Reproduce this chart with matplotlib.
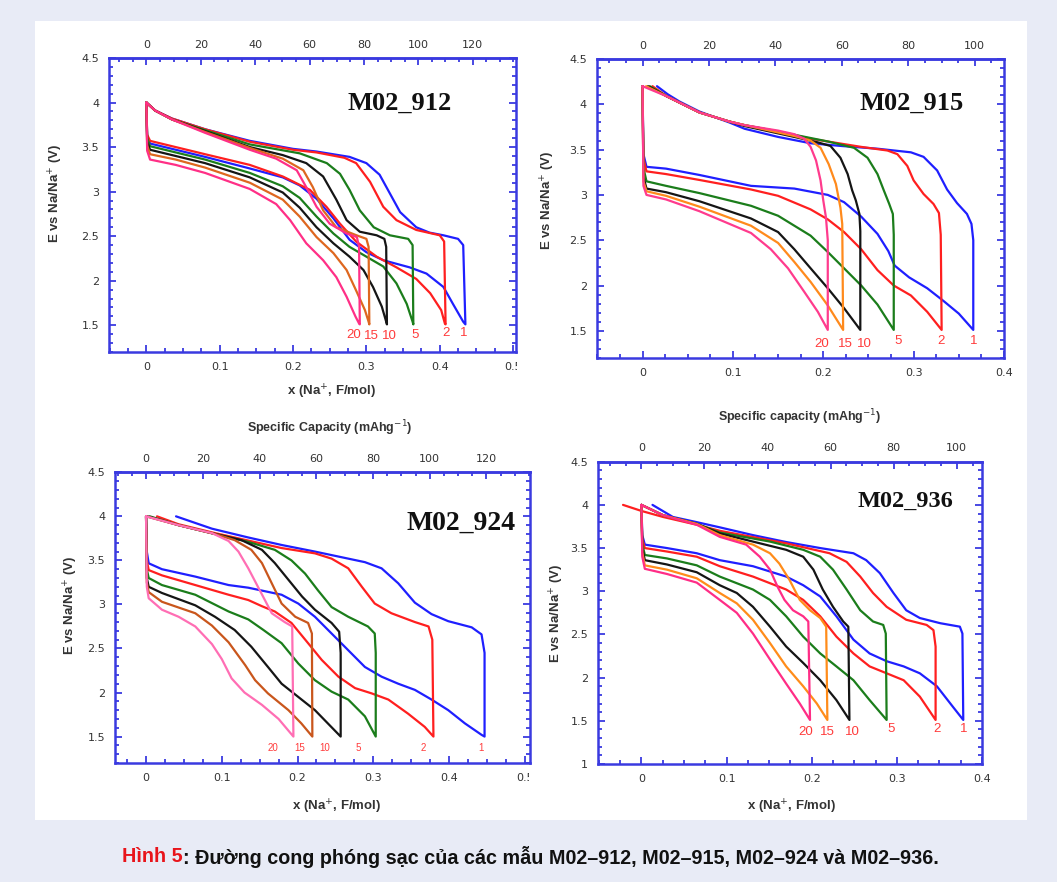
import matplotlib
matplotlib.use("Agg")
import matplotlib.pyplot as plt
from matplotlib.ticker import AutoMinorLocator
from matplotlib.patches import Rectangle
from matplotlib.transforms import Bbox, TransformedBbox

rates = ["1", "2", "5", "10", "15", "20"]

# ---------------- M02_912 ----------------
m912_x_1 = [0, 0.012, 0.035, 0.08, 0.141, 0.2, 0.232, 0.277, 0.300, 0.318, 0.332, 0.346, 0.368, 0.386, 0.405, 0.425, 0.432, 0.435,
            0.432, 0.418, 0.405, 0.382, 0.359, 0.323, 0.300, 0.277, 0.255, 0.232, 0.209, 0.186, 0.141, 0.08, 0.04, 0.005, 0.001, 0]
m912_E_1 = [4.0, 3.91, 3.82, 3.70, 3.57, 3.48, 3.45, 3.39, 3.32, 3.19, 2.98, 2.77, 2.60, 2.54, 2.51, 2.47, 2.40, 1.51,
            1.54, 1.74, 1.93, 2.08, 2.15, 2.23, 2.32, 2.46, 2.70, 2.92, 3.07, 3.16, 3.26, 3.39, 3.47, 3.54, 3.62, 4.0]
m912_x_2 = [0, 0.012, 0.035, 0.08, 0.141, 0.2, 0.232, 0.270, 0.286, 0.305, 0.323, 0.341, 0.368, 0.400, 0.406, 0.408,
            0.407, 0.402, 0.387, 0.368, 0.341, 0.314, 0.286, 0.264, 0.2455, 0.223, 0.186, 0.141, 0.08, 0.04, 0.005, 0.001, 0]
m912_E_2 = [4.0, 3.91, 3.82, 3.70, 3.56, 3.47, 3.44, 3.38, 3.32, 3.11, 2.83, 2.68, 2.57, 2.51, 2.44, 1.51,
            1.52, 1.67, 1.86, 2.02, 2.15, 2.27, 2.44, 2.64, 2.83, 3.02, 3.17, 3.30, 3.42, 3.50, 3.57, 3.64, 4.0]
m912_x_5 = [0, 0.012, 0.035, 0.08, 0.141, 0.209, 0.246, 0.264, 0.277, 0.291, 0.310, 0.332, 0.357, 0.363, 0.364,
            0.363, 0.355, 0.341, 0.323, 0.300, 0.277, 0.255, 0.232, 0.209, 0.186, 0.141, 0.08, 0.04, 0.005, 0.001, 0]
m912_E_5 = [4.0, 3.91, 3.81, 3.69, 3.53, 3.43, 3.32, 3.20, 3.02, 2.79, 2.60, 2.51, 2.47, 2.40, 1.51,
            1.54, 1.74, 1.97, 2.16, 2.27, 2.38, 2.53, 2.72, 2.93, 3.06, 3.21, 3.36, 3.44, 3.51, 3.60, 4.0]
m912_x_10 = [0, 0.012, 0.035, 0.08, 0.141, 0.186, 0.218, 0.241, 0.259, 0.273, 0.291, 0.314, 0.3245, 0.327, 0.328,
             0.327, 0.321, 0.309, 0.296, 0.277, 0.255, 0.232, 0.209, 0.186, 0.141, 0.08, 0.04, 0.005, 0.001, 0]
m912_E_10 = [4.0, 3.91, 3.81, 3.68, 3.50, 3.41, 3.32, 3.17, 2.91, 2.68, 2.55, 2.51, 2.47, 2.38, 1.51,
             1.54, 1.71, 1.93, 2.12, 2.27, 2.42, 2.60, 2.82, 2.99, 3.16, 3.32, 3.40, 3.47, 3.56, 4.0]
m912_x_15 = [0, 0.012, 0.035, 0.08, 0.141, 0.186, 0.214, 0.227, 0.241, 0.259, 0.2865, 0.300, 0.303, 0.304,
             0.303, 0.298, 0.286, 0.273, 0.255, 0.232, 0.209, 0.186, 0.141, 0.08, 0.04, 0.005, 0.001, 0]
m912_E_15 = [4.0, 3.91, 3.81, 3.67, 3.49, 3.37, 3.24, 3.05, 2.79, 2.60, 2.51, 2.47, 2.38, 1.51,
             1.54, 1.67, 1.89, 2.12, 2.31, 2.49, 2.72, 2.91, 3.10, 3.27, 3.36, 3.42, 3.52, 4.0]
m912_x_20 = [0, 0.012, 0.035, 0.08, 0.141, 0.177, 0.205, 0.218, 0.232, 0.250, 0.273, 0.287, 0.290, 0.291,
             0.290, 0.285, 0.273, 0.259, 0.241, 0.218, 0.196, 0.177, 0.141, 0.08, 0.04, 0.005, 0.001, 0]
m912_E_20 = [4.0, 3.91, 3.81, 3.66, 3.47, 3.37, 3.24, 3.05, 2.83, 2.64, 2.53, 2.49, 2.38, 1.51,
             1.52, 1.60, 1.82, 2.04, 2.23, 2.42, 2.68, 2.86, 3.03, 3.21, 3.30, 3.36, 3.46, 4.0]
m912_lab_x = [0.433, 0.409, 0.366, 0.332, 0.307, 0.282]
m912_lab_E = [1.41, 1.41, 1.39, 1.38, 1.38, 1.39]

# ---------------- M02_915 ----------------
m915_x_1 = [0.016, 0.028, 0.041, 0.063, 0.096, 0.113, 0.15, 0.186, 0.22, 0.26, 0.297, 0.311, 0.326, 0.337, 0.348, 0.359, 0.364, 0.366, 0.366,
            0.35, 0.333, 0.315, 0.295, 0.279, 0.272, 0.26, 0.242, 0.223, 0.205, 0.168, 0.12, 0.063, 0.026, 0.0044, 0.001, 0]
m915_E_1 = [4.2, 4.11, 4.03, 3.92, 3.80, 3.73, 3.64, 3.57, 3.54, 3.51, 3.47, 3.42, 3.27, 3.06, 2.91, 2.79, 2.68, 2.50, 1.51,
            1.69, 1.83, 1.97, 2.09, 2.22, 2.38, 2.57, 2.76, 2.92, 3.0, 3.07, 3.10, 3.22, 3.29, 3.31, 3.45, 4.2]
m915_x_2 = [0.011, 0.0265, 0.063, 0.096, 0.113, 0.15, 0.186, 0.242, 0.271, 0.282, 0.293, 0.300, 0.311, 0.322, 0.328, 0.330, 0.331,
            0.315, 0.297, 0.278, 0.26, 0.242, 0.223, 0.205, 0.186, 0.15, 0.12, 0.063, 0.026, 0.0044, 0.001, 0]
m915_E_2 = [4.2, 4.09, 3.91, 3.81, 3.77, 3.70, 3.62, 3.53, 3.49, 3.45, 3.32, 3.16, 3.01, 2.90, 2.80, 2.56, 1.51,
            1.71, 1.89, 2.00, 2.17, 2.40, 2.59, 2.73, 2.84, 2.99, 3.06, 3.165, 3.23, 3.26, 3.40, 4.2]
m915_x_5 = [0.008, 0.0265, 0.063, 0.096, 0.113, 0.15, 0.205, 0.234, 0.249, 0.26, 0.267, 0.273, 0.277, 0.278, 0.278,
            0.26, 0.242, 0.223, 0.205, 0.186, 0.15, 0.12, 0.063, 0.026, 0.0044, 0.001, 0]
m915_E_5 = [4.2, 4.09, 3.91, 3.81, 3.77, 3.70, 3.59, 3.52, 3.41, 3.23, 3.05, 2.90, 2.79, 2.56, 1.51,
            1.79, 2.0, 2.19, 2.37, 2.55, 2.77, 2.88, 3.02, 3.10, 3.15, 3.30, 4.2]
m915_x_10 = [0.006, 0.0265, 0.063, 0.096, 0.113, 0.168, 0.194, 0.208, 0.219, 0.227, 0.232, 0.236, 0.240, 0.241, 0.241,
             0.223, 0.205, 0.186, 0.168, 0.15, 0.12, 0.063, 0.026, 0.0044, 0.001, 0]
m915_E_10 = [4.2, 4.09, 3.91, 3.81, 3.76, 3.64, 3.58, 3.54, 3.41, 3.23, 3.05, 2.94, 2.79, 2.60, 1.51,
             1.75, 1.97, 2.19, 2.40, 2.59, 2.74, 2.93, 3.03, 3.07, 3.20, 4.2]
m915_x_15 = [0.004, 0.0265, 0.063, 0.096, 0.113, 0.168, 0.186, 0.197, 0.206, 0.214, 0.219, 0.221, 0.222,
             0.205, 0.186, 0.168, 0.15, 0.12, 0.063, 0.026, 0.0044, 0.001, 0]
m915_E_15 = [4.2, 4.09, 3.91, 3.81, 3.77, 3.65, 3.60, 3.52, 3.34, 3.12, 2.86, 2.68, 1.51,
             1.78, 2.04, 2.26, 2.47, 2.66, 2.87, 2.99, 3.04, 3.15, 4.2]
m915_x_20 = [0, 0.0265, 0.063, 0.096, 0.113, 0.15, 0.168, 0.179, 0.186, 0.192, 0.197, 0.200, 0.203, 0.205, 0.205,
             0.194, 0.179, 0.161, 0.142, 0.12, 0.063, 0.026, 0.0044, 0.001, 0]
m915_E_20 = [4.2, 4.09, 3.91, 3.81, 3.77, 3.71, 3.67, 3.62, 3.53, 3.38, 3.16, 2.94, 2.75, 2.50, 1.51,
             1.71, 1.93, 2.19, 2.40, 2.58, 2.82, 2.95, 3.0, 3.10, 4.2]
m915_lab_x = [0.366, 0.330, 0.283, 0.245, 0.224, 0.198]
m915_lab_E = [1.39, 1.39, 1.39, 1.36, 1.36, 1.36]

# ---------------- M02_924 ----------------
m924_x_1 = [0.0396, 0.087, 0.135, 0.179, 0.223, 0.267, 0.289, 0.311, 0.333, 0.355, 0.377, 0.399, 0.43, 0.443, 0.447, 0.447,
            0.443, 0.421, 0.399, 0.377, 0.355, 0.333, 0.311, 0.289, 0.267, 0.245, 0.223, 0.201, 0.179, 0.135, 0.109, 0.065, 0.021, 0.0035, 0.001, 0]
m924_E_1 = [4.0, 3.86, 3.76, 3.675, 3.60, 3.52, 3.48, 3.41, 3.24, 3.02, 2.89, 2.81, 2.74, 2.66, 2.45, 1.5,
            1.52, 1.65, 1.80, 1.92, 2.03, 2.10, 2.18, 2.29, 2.48, 2.67, 2.86, 3.01, 3.11, 3.19, 3.22, 3.316, 3.40, 3.467, 3.6, 4.0]
m924_x_2 = [0.0145, 0.043, 0.091, 0.179, 0.223, 0.245, 0.267, 0.285, 0.302, 0.324, 0.355, 0.373, 0.378, 0.3795,
            0.368, 0.346, 0.32, 0.298, 0.276, 0.254, 0.232, 0.214, 0.192, 0.17, 0.153, 0.135, 0.109, 0.065, 0.021, 0.0035, 0.001, 0]
m924_E_2 = [4.0, 3.91, 3.81, 3.64, 3.58, 3.52, 3.41, 3.20, 3.01, 2.90, 2.80, 2.75, 2.60, 1.5,
            1.61, 1.76, 1.92, 1.99, 2.05, 2.18, 2.37, 2.56, 2.79, 2.92, 2.98, 3.05, 3.11, 3.22, 3.33, 3.39, 3.5, 4.0]
m924_x_5 = [0.005, 0.043, 0.091, 0.135, 0.17, 0.192, 0.21, 0.227, 0.245, 0.267, 0.293, 0.302, 0.3033, 0.3033,
            0.289, 0.267, 0.245, 0.223, 0.201, 0.179, 0.155, 0.135, 0.109, 0.065, 0.021, 0.0035, 0.001, 0]
m924_E_5 = [4.0, 3.90, 3.80, 3.71, 3.62, 3.50, 3.35, 3.16, 2.97, 2.86, 2.75, 2.67, 2.45, 1.5,
            1.73, 1.92, 2.01, 2.14, 2.33, 2.56, 2.71, 2.83, 2.92, 3.11, 3.22, 3.30, 3.4, 4.0]
m924_x_10 = [0.002, 0.043, 0.091, 0.126, 0.153, 0.17, 0.188, 0.206, 0.223, 0.245, 0.255, 0.257, 0.257,
             0.24, 0.223, 0.201, 0.179, 0.161, 0.139, 0.117, 0.091, 0.065, 0.021, 0.0035, 0.001, 0]
m924_E_10 = [4.0, 3.90, 3.80, 3.73, 3.62, 3.47, 3.28, 3.09, 2.94, 2.79, 2.69, 2.45, 1.5,
             1.65, 1.80, 1.95, 2.10, 2.29, 2.52, 2.71, 2.86, 2.99, 3.13, 3.20, 3.3, 4.0]
m924_x_15 = [0, 0.043, 0.091, 0.117, 0.139, 0.153, 0.166, 0.179, 0.197, 0.214, 0.219, 0.2196,
             0.205, 0.188, 0.161, 0.144, 0.131, 0.109, 0.087, 0.065, 0.021, 0.0035, 0.001, 0]
m924_E_15 = [4.0, 3.90, 3.80, 3.73, 3.62, 3.47, 3.24, 3.01, 2.86, 2.79, 2.67, 1.5,
             1.65, 1.80, 1.99, 2.14, 2.31, 2.57, 2.76, 2.90, 3.03, 3.14, 3.25, 4.0]
m924_x_20 = [0, 0.043, 0.087, 0.109, 0.122, 0.135, 0.149, 0.166, 0.183, 0.193, 0.1946,
             0.175, 0.153, 0.13, 0.113, 0.1, 0.087, 0.065, 0.043, 0.021, 0.0035, 0.001, 0]
m924_E_20 = [4.0, 3.90, 3.81, 3.72, 3.60, 3.41, 3.18, 2.90, 2.80, 2.75, 1.5,
             1.70, 1.86, 2.0, 2.16, 2.38, 2.55, 2.75, 2.86, 2.94, 3.07, 3.2, 4.0]
m924_lab_x = [0.4425, 0.3655, 0.28, 0.2356, 0.203, 0.167]
m924_lab_E = [1.375, 1.375, 1.375, 1.375, 1.375, 1.375]

# ---------------- M02_936 ----------------
m936_x_1 = [0.013, 0.037, 0.065, 0.092, 0.131, 0.17, 0.21, 0.249, 0.264, 0.28, 0.296, 0.311, 0.327, 0.351, 0.374, 0.377, 0.378,
            0.366, 0.347, 0.327, 0.308, 0.288, 0.268, 0.249, 0.229, 0.21, 0.19, 0.17, 0.131, 0.092, 0.065, 0.03, 0.004, 0.001, 0]
m936_E_1 = [4.0, 3.86, 3.80, 3.74, 3.65, 3.57, 3.50, 3.44, 3.36, 3.21, 2.98, 2.78, 2.69, 2.63, 2.59, 2.51, 1.51,
            1.66, 1.90, 2.05, 2.13, 2.19, 2.28, 2.44, 2.71, 2.94, 3.07, 3.17, 3.29, 3.36, 3.44, 3.50, 3.54, 3.65, 4.0]
m936_x_2 = [-0.0216, 0.0, 0.0255, 0.065, 0.092, 0.17, 0.221, 0.241, 0.257, 0.272, 0.288, 0.311, 0.335, 0.343, 0.3455, 0.3455,
            0.327, 0.308, 0.288, 0.268, 0.249, 0.229, 0.21, 0.19, 0.17, 0.131, 0.092, 0.065, 0.03, 0.004, 0.001, 0]
m936_E_2 = [4.0, 3.93, 3.86, 3.77, 3.70, 3.555, 3.44, 3.34, 3.17, 2.98, 2.82, 2.67, 2.61, 2.55, 2.36, 1.51,
            1.78, 1.97, 2.05, 2.13, 2.28, 2.475, 2.71, 2.90, 3.02, 3.17, 3.29, 3.40, 3.46, 3.50, 3.6, 4.0]
m936_x_5 = [0, 0.0255, 0.065, 0.092, 0.151, 0.19, 0.21, 0.225, 0.241, 0.257, 0.272, 0.284, 0.287, 0.288,
            0.268, 0.249, 0.229, 0.21, 0.19, 0.17, 0.151, 0.131, 0.092, 0.065, 0.03, 0.004, 0.001, 0]
m936_E_5 = [4.0, 3.88, 3.78, 3.68, 3.575, 3.48, 3.40, 3.25, 3.02, 2.78, 2.65, 2.61, 2.51, 1.51,
            1.74, 1.97, 2.13, 2.28, 2.475, 2.71, 2.90, 3.02, 3.17, 3.30, 3.38, 3.42, 3.55, 4.0]
m936_x_10 = [0, 0.0255, 0.065, 0.092, 0.131, 0.17, 0.19, 0.202, 0.213, 0.225, 0.237, 0.243, 0.2443,
             0.229, 0.21, 0.19, 0.17, 0.151, 0.131, 0.112, 0.092, 0.065, 0.03, 0.004, 0.001, 0]
m936_E_10 = [4.0, 3.88, 3.78, 3.67, 3.575, 3.48, 3.40, 3.25, 3.02, 2.82, 2.65, 2.59, 1.51,
             1.74, 1.97, 2.17, 2.36, 2.59, 2.82, 2.98, 3.07, 3.22, 3.31, 3.36, 3.5, 4.0]
m936_x_15 = [0, 0.0255, 0.065, 0.092, 0.131, 0.151, 0.162, 0.174, 0.186, 0.198, 0.21, 0.217, 0.2184,
             0.206, 0.19, 0.17, 0.151, 0.131, 0.112, 0.092, 0.065, 0.03, 0.004, 0.001, 0]
m936_E_15 = [4.0, 3.88, 3.78, 3.65, 3.54, 3.44, 3.32, 3.13, 2.90, 2.78, 2.69, 2.59, 1.51,
             1.70, 1.90, 2.13, 2.40, 2.67, 2.86, 2.98, 3.15, 3.25, 3.30, 3.45, 4.0]
m936_x_20 = [0, 0.0255, 0.065, 0.092, 0.123, 0.139, 0.151, 0.16, 0.168, 0.178, 0.19, 0.196, 0.198,
             0.186, 0.17, 0.151, 0.131, 0.112, 0.092, 0.065, 0.03, 0.004, 0.001, 0]
m936_E_20 = [4.0, 3.88, 3.77, 3.63, 3.54, 3.40, 3.25, 3.05, 2.90, 2.78, 2.71, 2.65, 1.51,
             1.70, 1.93, 2.21, 2.51, 2.75, 2.90, 3.10, 3.20, 3.26, 3.4, 4.0]
m936_lab_x = [0.378, 0.347, 0.293, 0.248, 0.219, 0.193]
m936_lab_E = [1.41, 1.41, 1.41, 1.375, 1.375, 1.375]

x_ticks_05 = [0, 0.1, 0.2, 0.3, 0.4, 0.5]
x_ticks_04 = [0, 0.1, 0.2, 0.3, 0.4]
x_labels_05 = ["0", "0.1", "0.2", "0.3", "0.4", "0.5"]
x_labels_04 = ["0", "0.1", "0.2", "0.3", "0.4"]
y_ticks_15 = [1.5, 2, 2.5, 3, 3.5, 4, 4.5]
y_labels_15 = ["1.5", "2", "2.5", "3", "3.5", "4", "4.5"]
y_ticks_10 = [1, 1.5, 2, 2.5, 3, 3.5, 4, 4.5]
y_labels_10 = ["1", "1.5", "2", "2.5", "3", "3.5", "4", "4.5"]
cap_ticks_120 = [0, 20, 40, 60, 80, 100, 120]
cap_ticks_100 = [0, 20, 40, 60, 80, 100]

W, H = 1057, 882
FRAME = "#3a3ae0"
TXT = "#333333"
LABRED = "#ff3b3b"
BLUE, RED, GREEN, BLACK = "#1f1fff", "#ff1f1f", "#1b7d1b", "#151515"

panels = [
    dict(name="M02_912", curves=[(m912_x_1, m912_E_1), (m912_x_2, m912_E_2), (m912_x_5, m912_E_5),
                                 (m912_x_10, m912_E_10), (m912_x_15, m912_E_15), (m912_x_20, m912_E_20)],
         colors=[BLUE, RED, GREEN, BLACK, "#de671f", "#ff2f86"],
         box=(109, 58, 516, 352), xlim=(-0.051, 0.504), ylim=(1.2, 4.5),
         xt=(x_ticks_05, x_labels_05), yt=(y_ticks_15, y_labels_15), k=269.7, ct=cap_ticks_120,
         lab=(m912_lab_x, m912_lab_E), labsize=9.5, clip_px=517,
         title_pos=(0.715, 0.847), title_size=19,
         ylab=(-0.107, 0.54), xlab=(0.548, -0.105), toplab=None),
    dict(name="M02_915", curves=[(m915_x_1, m915_E_1), (m915_x_2, m915_E_2), (m915_x_5, m915_E_5),
                                 (m915_x_10, m915_E_10), (m915_x_15, m915_E_15), (m915_x_20, m915_E_20)],
         colors=[BLUE, RED, GREEN, BLACK, "#ff8a1c", "#ff3b8d"],
         box=(596.7, 59, 1004, 358), xlim=(-0.0507, 0.398), ylim=(1.2, 4.5),
         xt=(x_ticks_04, x_labels_04), yt=(y_ticks_15, y_labels_15), k=272.0, ct=cap_ticks_100,
         lab=(m915_lab_x, m915_lab_E), labsize=9.5, clip_px=None,
         title_pos=(0.773, 0.852), title_size=19,
         ylab=(-0.098, 0.528), xlab=None, toplab=None),
    dict(name="M02_924", curves=[(m924_x_1, m924_E_1), (m924_x_2, m924_E_2), (m924_x_5, m924_E_5),
                                 (m924_x_10, m924_E_10), (m924_x_15, m924_E_15), (m924_x_20, m924_E_20)],
         colors=[BLUE, RED, GREEN, BLACK, "#c9561c", "#ff6eb4"],
         box=(115, 472.3, 530, 763), xlim=(-0.041, 0.507), ylim=(1.2, 4.5),
         xt=(x_ticks_05, x_labels_05), yt=(y_ticks_15, y_labels_15), k=267.0, ct=cap_ticks_120,
         lab=(m924_lab_x, m924_lab_E), labsize=7, clip_px=529,
         title_pos=(0.835, 0.824), title_size=20,
         ylab=(-0.085, 0.543), xlab=(0.534, -0.12),
         toplab=("Specific Capacity (mAhg$^{-1}$)", 0.518, 1.151)),
    dict(name="M02_936", curves=[(m936_x_1, m936_E_1), (m936_x_2, m936_E_2), (m936_x_5, m936_E_5),
                                 (m936_x_10, m936_E_10), (m936_x_15, m936_E_15), (m936_x_20, m936_E_20)],
         colors=[BLUE, RED, GREEN, BLACK, "#ff8c1a", "#ff2d86"],
         box=(598, 461.7, 982, 764), xlim=(-0.051, 0.4), ylim=(1.0, 4.5),
         xt=(x_ticks_04, x_labels_04), yt=(y_ticks_10, y_labels_10), k=270.0, ct=cap_ticks_100,
         lab=(m936_lab_x, m936_lab_E), labsize=9.5, clip_px=None,
         title_pos=(0.80, 0.868), title_size=17.5,
         ylab=(-0.083, 0.4985), xlab=(0.504, -0.112),
         toplab=("Specific capacity (mAhg$^{-1}$)", 0.526, 1.148)),
]

fig = plt.figure(figsize=(W / 100, H / 100), dpi=100)
fig.patch.set_facecolor("#e8ebf6")
fig.add_artist(Rectangle((35 / W, 1 - 820 / H), (1027 - 35) / W, (820 - 21) / H,
                         transform=fig.transFigure, facecolor="white", edgecolor="none", zorder=-10))

SANS = ["Liberation Sans", "DejaVu Sans"]
TICKF = ["DejaVu Sans"]

for p in panels:
    x0, y0, x1, y1 = p["box"]
    ax = fig.add_axes([x0 / W, 1 - y1 / H, (x1 - x0) / W, (y1 - y0) / H])
    ax.set_facecolor("white")
    for (xs, es), c in zip(p["curves"], p["colors"]):
        ax.plot(xs, es, color=c, lw=1.6, solid_joinstyle="round", solid_capstyle="round", zorder=3)
    for r, lx, le in zip(rates, p["lab"][0], p["lab"][1]):
        ax.text(lx, le, r, color=LABRED, fontsize=p["labsize"], ha="center", va="center", family=SANS)
    ax.set_xlim(*p["xlim"])
    ax.set_ylim(*p["ylim"])
    ax.set_xticks(p["xt"][0])
    ax.set_xticklabels(p["xt"][1])
    ax.set_yticks(p["yt"][0])
    ax.set_yticklabels(p["yt"][1])
    ax.xaxis.set_minor_locator(AutoMinorLocator(4))
    ax.yaxis.set_minor_locator(AutoMinorLocator(5))
    ax.tick_params(which="both", direction="in", color=FRAME, width=1.3,
                   bottom=True, left=True, right=True, top=False,
                   labelsize=8, labelcolor=TXT)
    ax.tick_params(which="major", length=5)
    ax.tick_params(which="minor", length=3)
    ax.tick_params(axis="x", pad=7)
    ax.tick_params(axis="y", pad=7)
    for sp in ax.spines.values():
        sp.set_color(FRAME)
        sp.set_linewidth(1.8)
    for lab in ax.get_xticklabels() + ax.get_yticklabels():
        lab.set_family(TICKF)
    k = p["k"]
    sec = ax.secondary_xaxis("top", functions=(lambda v, k=k: v * k, lambda c, k=k: c / k))
    sec.set_xticks(p["ct"])
    sec.set_xticklabels([str(c) for c in p["ct"]])
    sec.xaxis.set_minor_locator(AutoMinorLocator(4))
    sec.tick_params(which="both", direction="in", color=FRAME, width=1.3, labelsize=8,
                    labelcolor=TXT, pad=6)
    sec.tick_params(which="major", length=5)
    sec.tick_params(which="minor", length=3)
    sec.spines["top"].set_color(FRAME)
    sec.spines["top"].set_linewidth(1.8)
    for lab in sec.get_xticklabels():
        lab.set_family(TICKF)
    if p["clip_px"] is not None:
        cb = TransformedBbox(Bbox.from_extents(0, 0, p["clip_px"] / W, 1), fig.transFigure)
        t = ax.xaxis.get_major_ticks()[-1].label1
        t.set_clip_box(cb)
        t.set_clip_on(True)
    ax.set_ylabel("E vs Na/Na$^{+}$ (V)", fontsize=9.5, fontweight="bold", color=TXT, family=SANS)
    ax.yaxis.set_label_coords(*p["ylab"])
    if p["xlab"] is not None:
        ax.set_xlabel("x (Na$^{+}$, F/mol)", fontsize=9.5, fontweight="bold", color=TXT, family=SANS)
        ax.xaxis.set_label_coords(*p["xlab"])
    if p["toplab"] is not None:
        ax.text(p["toplab"][1], p["toplab"][2], p["toplab"][0], transform=ax.transAxes,
                ha="center", va="center", fontsize=9, fontweight="bold", color=TXT, family=SANS)
    ax.text(p["title_pos"][0], p["title_pos"][1], p["name"], transform=ax.transAxes,
            ha="center", va="center", fontsize=p["title_size"], fontweight="bold",
            family=["Liberation Serif", "DejaVu Serif"], color="#111111")

cap_y = 1 - 857 / H
t1 = fig.text(122 / W, cap_y, "Hình 5", color="#e8141b", fontsize=14.2, fontweight="bold",
              ha="left", va="center", family=SANS)
fig.canvas.draw()
bb = t1.get_window_extent()
fig.text(bb.x1 / W, cap_y, ": Đường cong phóng sạc của các mẫu M02–912, M02–915, M02–924 và M02–936.",
         color="#111111", fontsize=14.2, fontweight="bold", ha="left", va="center", family=SANS)

fig.savefig("out.png", dpi=100, facecolor=fig.get_facecolor())
